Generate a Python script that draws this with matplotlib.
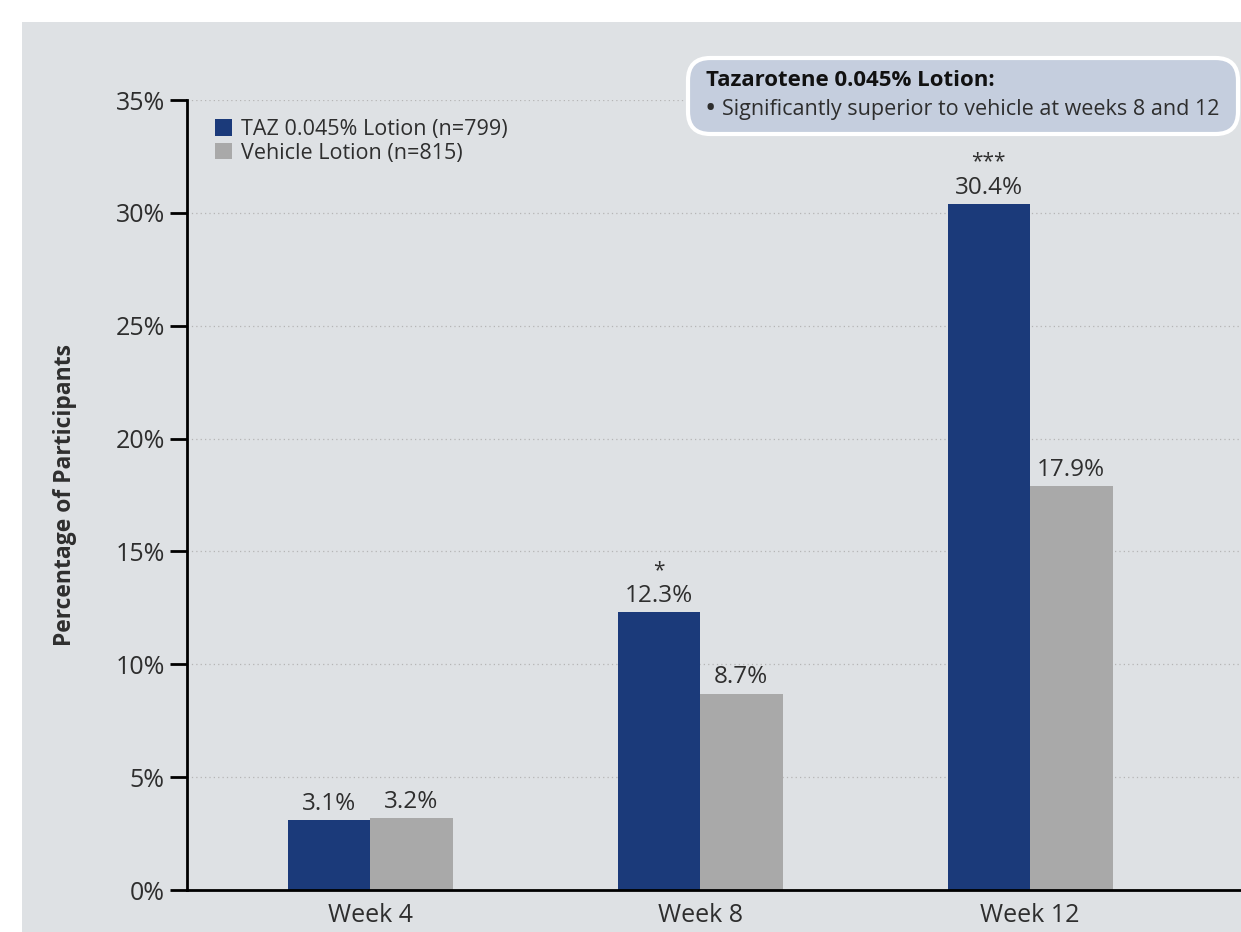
import matplotlib
matplotlib.use("Agg")
import matplotlib.pyplot as plt
from matplotlib.patches import Rectangle, FancyBboxPatch
from matplotlib.ticker import FuncFormatter, MultipleLocator
import numpy as np

# Data
weeks = ["Week 4", "Week 8", "Week 12"]
taz_values = [3.1, 12.3, 30.4]
vehicle_values = [3.2, 8.7, 17.9]
significance = ["", "*", "***"]
series_labels = ["TAZ 0.045% Lotion (n=799)", "Vehicle Lotion (n=815)"]
box_title = "Tazarotene 0.045% Lotion:"
box_text = "Significantly superior to vehicle at weeks 8 and 12"

navy = "#1b3a7a"
grey = "#a9a9a9"
panel = "#dee1e4"
text_col = "#2e2e2e"
font = ["Open Sans", "DejaVu Sans"]

plt.rcParams["font.family"] = font

W, H = 1241, 932
fig = plt.figure(figsize=(W / 100, H / 100), dpi=100)
fig.patch.set_facecolor("white")

# grey panel behind the chart
fig.patches.append(Rectangle((22 / W, 0), 1 - 22 / W, 1 - 22 / H,
                             transform=fig.transFigure, facecolor=panel,
                             edgecolor="none", zorder=-10))

ax = fig.add_axes([187 / W, 1 - 890 / H, 1 - 187 / W, (890 - 100) / H])
ax.set_facecolor("none")
ax.set_zorder(1)

x = np.arange(len(weeks))
bw = 0.25
ax.bar(x - bw / 2, taz_values, bw, color=navy, label=series_labels[0], zorder=3)
ax.bar(x + bw / 2, vehicle_values, bw, color=grey, label=series_labels[1], zorder=3)

for xi, v, s in zip(x, taz_values, significance):
    ax.text(xi - bw / 2, v + 0.45, f"{v}%", ha="center", va="baseline",
            fontsize=17.5, color=text_col)
    if s:
        ax.text(xi - bw / 2, v + 1.62, s, ha="center", va="baseline",
                fontsize=15, color=text_col)
for xi, v in zip(x, vehicle_values):
    ax.text(xi + bw / 2, v + 0.45, f"{v}%", ha="center", va="baseline",
            fontsize=17.5, color=text_col)

ax.set_ylim(0, 35)
ax.set_xlim((187 - 370) / 330, (1241 - 370) / 330)
ax.yaxis.set_major_locator(MultipleLocator(5))
ax.yaxis.set_major_formatter(FuncFormatter(lambda v, p: f"{v:.0f}%"))
ax.set_xticks(x)
ax.set_xticklabels(weeks)
ax.tick_params(axis="y", length=12, width=2, color="black", labelsize=18,
               labelcolor=text_col, pad=4)
ax.tick_params(axis="x", length=0, labelsize=18, labelcolor=text_col, pad=9)

ax.grid(axis="y", linestyle=(0, (1, 2.5)), color="#b5b5b5", linewidth=0.9, zorder=1)
ax.set_axisbelow(True)

for side in ["top", "right"]:
    ax.spines[side].set_visible(False)
for side in ["left", "bottom"]:
    ax.spines[side].set_linewidth(2)
    ax.spines[side].set_color("black")
    ax.spines[side].set_zorder(4)

ax.set_ylabel("Percentage of Participants", fontsize=16.5, fontweight="bold",
              color=text_col, labelpad=28)

ax.legend(loc="upper left", bbox_to_anchor=(0.012, 0.995), frameon=False,
          fontsize=15.5, handlelength=0.8, handleheight=0.8,
          handletextpad=0.4, labelspacing=0.12, labelcolor=text_col,
          borderaxespad=0.3)

# highlight box
box = FancyBboxPatch((688 / W, 1 - 134 / H), (1238 - 688) / W, (134 - 58) / H,
                     boxstyle="round,pad=0,rounding_size=0.018",
                     transform=fig.transFigure, facecolor="#c5cede",
                     edgecolor="white", linewidth=3, zorder=10,
                     mutation_aspect=W / H)
fig.patches.append(box)
fig.text(706 / W, 1 - 81 / H, box_title, fontsize=16, fontweight="bold",
         color="#111111", va="center", ha="left", zorder=11)
fig.text(704 / W, 1 - 110 / H, "•", fontsize=22, color=text_col,
         va="center", ha="left", zorder=11)
fig.text(722 / W, 1 - 109 / H, box_text, fontsize=15.5, color=text_col,
         va="center", ha="left", zorder=11)

fig.savefig("out.png", dpi=100, facecolor=fig.get_facecolor())
